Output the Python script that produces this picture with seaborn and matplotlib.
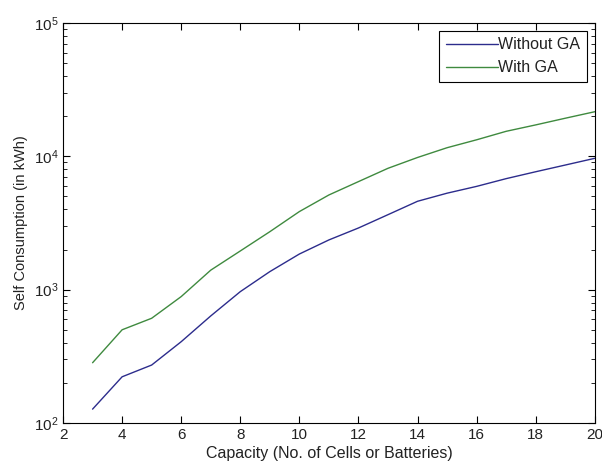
import numpy as np
import pandas as pd
import seaborn as sns
import matplotlib
matplotlib.use('Agg')
import matplotlib.pyplot as plt
from matplotlib.ticker import LogLocator

capacity = [3, 4, 5, 6, 7, 8, 9, 10, 11, 12, 13, 14, 15, 16, 17, 18, 19, 20]
without_ga = [127, 222, 272, 407, 635, 966, 1365, 1850, 2360, 2900, 3650, 4600,
              5290, 5950, 6800, 7660, 8600, 9660]
with_ga = [283, 500, 610, 887, 1400, 1950, 2720, 3850, 5130, 6460, 8130, 9800,
           11600, 13300, 15400, 17200, 19300, 21600]
series_names = ['Without GA', 'With GA']
series_colors = ['#2c2c8c', '#3f8a3f']

df = pd.DataFrame({
    'capacity': capacity * 2,
    'value': without_ga + with_ga,
    'series': [series_names[0]] * len(capacity) + [series_names[1]] * len(capacity),
})

sns.set_style('ticks')
plt.rcParams['font.family'] = ['Liberation Sans', 'DejaVu Sans']
plt.rcParams['font.size'] = 10

fig = plt.figure(figsize=(6.02, 4.68), dpi=100)
ax = fig.add_axes([0.1047, 0.0962, 0.8833, 0.8547])

sns.lineplot(data=df, x='capacity', y='value', hue='series', hue_order=series_names,
             palette=series_colors, linewidth=1.0, ax=ax)

ax.set_yscale('log')
ax.set_xlim(2, 20)
ax.set_ylim(1e2, 1e5)
ax.set_xticks(range(2, 21, 2))
ax.yaxis.set_major_locator(LogLocator(base=10, numticks=10))
ax.yaxis.set_minor_locator(LogLocator(base=10, subs=np.arange(2, 10), numticks=10))

for s in ax.spines.values():
    s.set_visible(True)
    s.set_color('black')
    s.set_linewidth(0.8)

ax.tick_params(which='both', direction='in', top=True, right=True, colors='black',
               labelcolor='#222222', labelsize=11)
ax.tick_params(which='major', length=5)
ax.tick_params(which='minor', length=3)

ax.set_xlabel('Capacity (No. of Cells or Batteries)', fontsize=11.5, color='#222222', labelpad=3)
ax.set_ylabel('Self Consumption (in kWh)', fontsize=10.5, color='#222222', labelpad=4)

leg = ax.legend(loc='upper right', frameon=True, fancybox=False, framealpha=1,
                edgecolor='black', handlelength=3.3, handletextpad=0.0,
                borderaxespad=0.5, fontsize=11.5)
leg.get_frame().set_linewidth(0.8)
for t in leg.get_texts():
    t.set_color('#222222')

fig.savefig('out.png', dpi=100)
